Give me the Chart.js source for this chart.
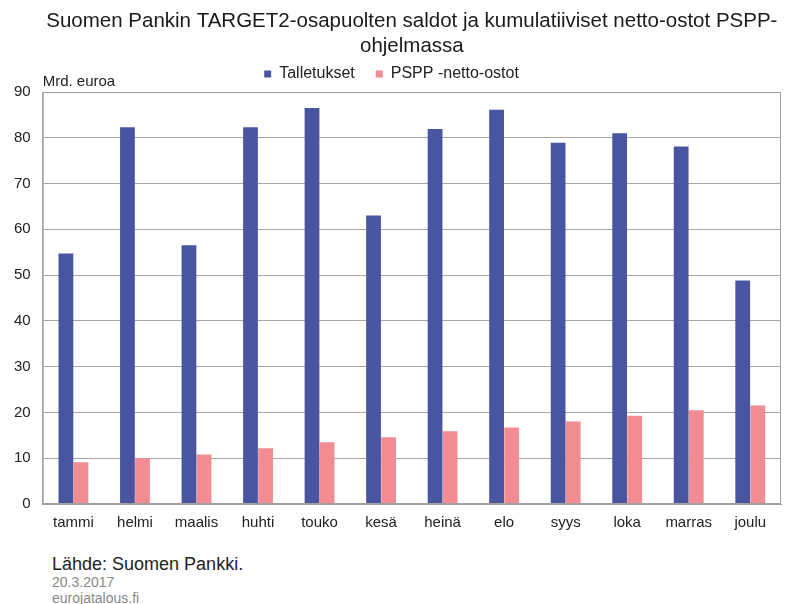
<!DOCTYPE html>
<html>
<head>
<meta charset="utf-8">
<script src="https://cdn.jsdelivr.net/npm/chart.js@4.4.0/dist/chart.umd.min.js"></script>
<style>
  body { margin: 0; background: #fff; font-family: "Liberation Sans", Arial, sans-serif; }
  #wrap { position: relative; width: 794px; height: 604px; }
  #chart-box { position: absolute; left: 0; top: 0; width: 794px; height: 542px; }
  .note { position: absolute; left: 52px; white-space: nowrap; }
</style>
</head>
<body>
<div id="wrap">
  <div id="chart-box"><canvas id="targetChart"></canvas></div>
  <div class="note" style="top:553px;font-size:18px;line-height:22px;color:#222;">Lähde: Suomen Pankki.</div>
  <div class="note" style="top:574px;font-size:14px;line-height:16px;color:#888;">20.3.2017</div>
  <div class="note" style="top:590px;font-size:14px;line-height:16px;color:#888;">eurojatalous.fi</div>
</div>
<script>
// Months, series values (Mrd. euroa)
const months = ['tammi', 'helmi', 'maalis', 'huhti', 'touko', 'kesä', 'heinä', 'elo', 'syys', 'loka', 'marras', 'joulu'];
const talletukset = [54.7, 82.3, 56.5, 82.3, 86.5, 63.0, 81.9, 86.1, 78.9, 81.0, 78.1, 48.8];
const psppOstot = [9.1, 10.0, 10.8, 12.2, 13.5, 14.6, 15.9, 16.7, 18.0, 19.3, 20.5, 21.5];
const yTicks = [0, 10, 20, 30, 40, 50, 60, 70, 80, 90];

const FONT = '"Liberation Sans", Arial, sans-serif';

// Draws the unit label above the plot area
const unitLabel = {
    id: 'unitLabel',
    afterDraw(chart) {
        const ctx = chart.ctx;
        ctx.save();
        ctx.font = '15px ' + FONT;
        ctx.fillStyle = '#222';
        ctx.textBaseline = 'middle';
        ctx.fillText('Mrd. euroa', chart.chartArea.left, chart.chartArea.top - 10);
        ctx.restore();
    }
};

// box around the plot area
const plotFrame = {
    id: 'plotFrame',
    afterDraw(chart) {
        const a = chart.chartArea;
        const c = chart.ctx;
        c.save();
        c.strokeStyle = '#a0a0a0';
        c.lineWidth = 1;
        c.strokeRect(a.left + 0.5, a.top + 0.5, a.right - a.left - 1, a.bottom - a.top - 1);
        c.restore();
    }
};

const ctx = document.getElementById('targetChart').getContext('2d');
new Chart(ctx, {
    type: 'bar',
    data: {
        labels: months,
        datasets: [{
            label: 'Talletukset',
            data: talletukset,
            backgroundColor: '#4a55a2',
            barPercentage: 0.98,
            categoryPercentage: 0.49
        }, {
            label: 'PSPP -netto-ostot',
            data: psppOstot,
            backgroundColor: '#f18c93',
            barPercentage: 0.98,
            categoryPercentage: 0.49
        }]
    },
    options: {
        responsive: true,
        maintainAspectRatio: false,
        animation: false,
        layout: { padding: { left: 2, right: 13, top: 0, bottom: 0 } },
        plugins: {
            title: {
                display: true,
                fullSize: false,
                text: ['Suomen Pankin TARGET2-osapuolten saldot ja kumulatiiviset netto-ostot PSPP-', 'ohjelmassa'],
                color: '#1a1a1a',
                font: { family: FONT, size: 20.5, weight: 'normal', lineHeight: 1.22 },
                padding: { top: 9, bottom: -14 }
            },
            legend: {
                position: 'top',
                labels: {
                    color: '#222',
                    boxWidth: 7,
                    boxHeight: 7,
                    padding: 21,
                    font: { family: FONT, size: 16 }
                }
            },
            tooltip: { enabled: false }
        },
        scales: {
            x: {
                grid: { display: false, drawTicks: false },
                border: { color: '#a0a0a0' },
                ticks: {
                    color: '#222',
                    padding: 10,
                    font: { family: FONT, size: 15 }
                }
            },
            y: {
                min: 0,
                max: 90,
                afterBuildTicks(axis) {
                    axis.ticks = yTicks.map(v => ({ value: v }));
                },
                grid: { color: '#a6a6a6', drawTicks: false },
                border: { color: '#a0a0a0' },
                ticks: {
                    color: '#222',
                    padding: 12,
                    font: { family: FONT, size: 15 }
                }
            }
        }
    },
    plugins: [unitLabel, plotFrame]
});
</script>
</body>
</html>
